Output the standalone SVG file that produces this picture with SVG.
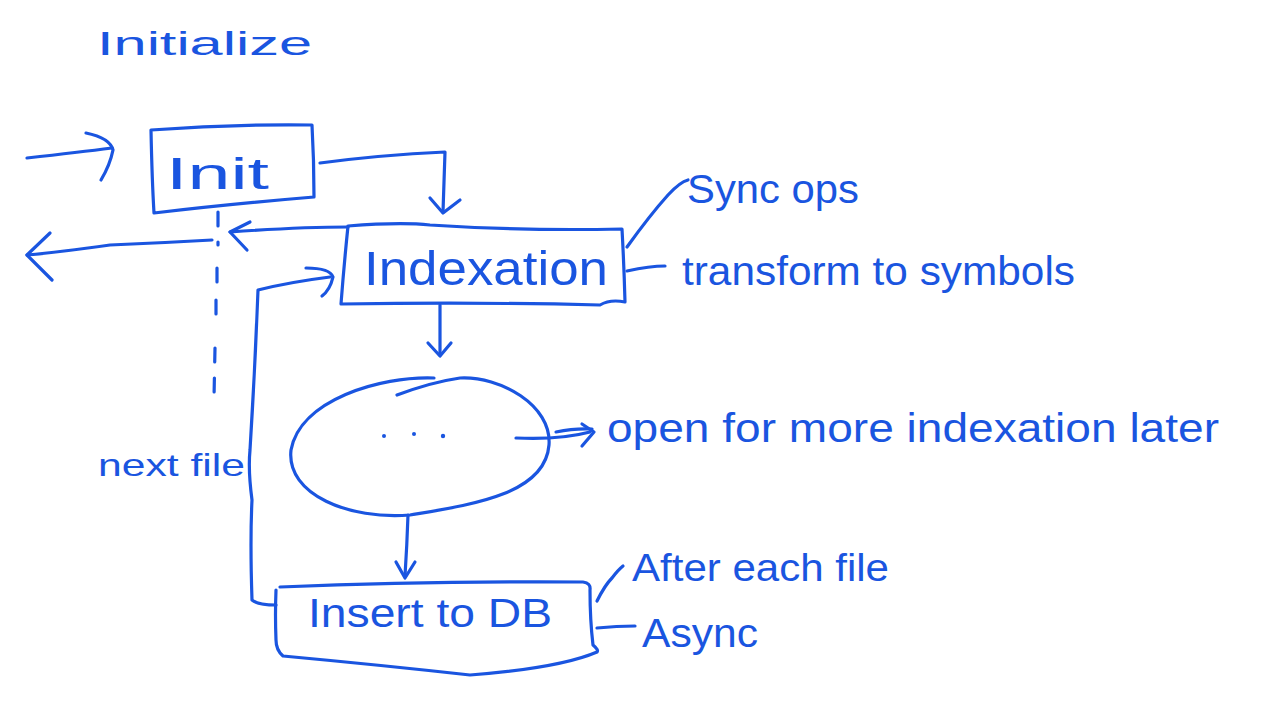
<svg xmlns="http://www.w3.org/2000/svg" width="1280" height="720" viewBox="0 0 1280 720">
<style>
.s{fill:none;stroke:#1a55e0;stroke-width:3.2;stroke-linecap:round;stroke-linejoin:round}
.t{fill:#1a55e0;font-family:"Liberation Sans","DejaVu Sans",sans-serif;font-weight:normal}
.d{stroke-dasharray:14 16}
</style>
<rect width="1280" height="720" fill="#ffffff"/>
<g id="title"><text class="t" x="97" y="55" font-size="34" textLength="215" lengthAdjust="spacingAndGlyphs">Initialize</text></g>

<g id="init">
<path class="s" d="M151,130 Q230,124 312,125 Q314,160 314,197 Q230,204 154,213 Q152,180 151,130"/>
<text class="t" x="166" y="189" font-size="44" textLength="103" lengthAdjust="spacingAndGlyphs">Init</text>
</g>

<g id="indexation">
<path class="s" d="M348,226 Q400,222 430,225 Q520,231 622,229 Q624,265 625,302 Q610,299 600,305 Q480,302 341,304 Q344,265 348,226"/>
<text class="t" x="364" y="285" font-size="48" textLength="244" lengthAdjust="spacingAndGlyphs">Indexation</text>
</g>

<g id="more">
<path class="s" d="M434,378 C380,376 300,400 291,450 C286,495 350,520 410,515 C470,505 545,495 549,445 C552,405 500,376 460,378 Q432,382 397,395"/>
<circle cx="384" cy="436" r="2" fill="#1a55e0"/>
<circle cx="414" cy="434" r="2" fill="#1a55e0"/>
<circle cx="443" cy="436" r="2.2" fill="#1a55e0"/>
</g>

<g id="insert">
<path class="s" d="M280,587 Q430,581 583,582 Q591,583 590,590 Q590,620 593,645 Q599,650 597,652 Q560,668 470,675 Q380,665 283,656 Q276,650 276,640 Q275,615 276,590"/>
<text class="t" x="308" y="627" font-size="40" textLength="244" lengthAdjust="spacingAndGlyphs">Insert to DB</text>
</g>

<g id="annotations">
<text class="t" x="687" y="203" font-size="40" textLength="172" lengthAdjust="spacingAndGlyphs">Sync ops</text>
<text class="t" x="682" y="285" font-size="40" textLength="393" lengthAdjust="spacingAndGlyphs">transform to symbols</text>
<text class="t" x="607" y="442" font-size="40" textLength="612" lengthAdjust="spacingAndGlyphs">open for more indexation later</text>
<text class="t" x="98" y="476" font-size="32" textLength="147" lengthAdjust="spacingAndGlyphs">next file</text>
<text class="t" x="632" y="581" font-size="38" textLength="257" lengthAdjust="spacingAndGlyphs">After each file</text>
<text class="t" x="642" y="647" font-size="40" textLength="116" lengthAdjust="spacingAndGlyphs">Async</text>
</g>

<g id="connectors">
<path class="s" d="M27,158 Q80,152 112,148"/>
<path class="s" d="M86,133 Q110,138 113,150 Q110,165 101,180"/>
<path class="s" d="M212,240 Q160,243 110,245 Q60,252 27,255"/>
<path class="s" d="M50,233 L27,255 L52,280"/>
<path class="s d" d="M218,212 L218,245 M217,268 L217,282 M216,300 L216,330 M215,348 L214,398"/>
<path class="s" d="M348,227 Q300,227 230,232"/>
<path class="s" d="M250,222 L230,232 L247,250"/>
<path class="s" d="M320,163 Q380,155 445,152 Q444,180 443,212"/>
<path class="s" d="M430,198 L443,213 L460,200"/>
<path class="s" d="M440,305 L440,355"/>
<path class="s" d="M428,343 L440,356 L451,343"/>
<path class="s" d="M516,438 Q560,440 590,432"/>
<path class="s" d="M556,432 Q575,428 592,429"/>
<path class="s" d="M582,424 L594,432 L582,446"/>
<path class="s" d="M408,515 Q407,545 405,576"/>
<path class="s" d="M396,562 L405,578 L415,562"/>
<path class="s" d="M276,605 Q258,605 252,600 Q250,540 252,500 Q248,470 250,450 Q255,370 258,290 Q290,282 330,277"/>
<path class="s" d="M306,268 Q330,268 333,277 Q330,290 322,296"/>
<path class="s" d="M627,247 Q650,215 668,195 Q680,182 688,180"/>
<path class="s" d="M627,271 Q650,266 665,266"/>
<path class="s" d="M597,601 Q605,585 612,578 Q618,570 623,566"/>
<path class="s" d="M597,628 Q617,626 635,626"/>
</g>
</svg>
